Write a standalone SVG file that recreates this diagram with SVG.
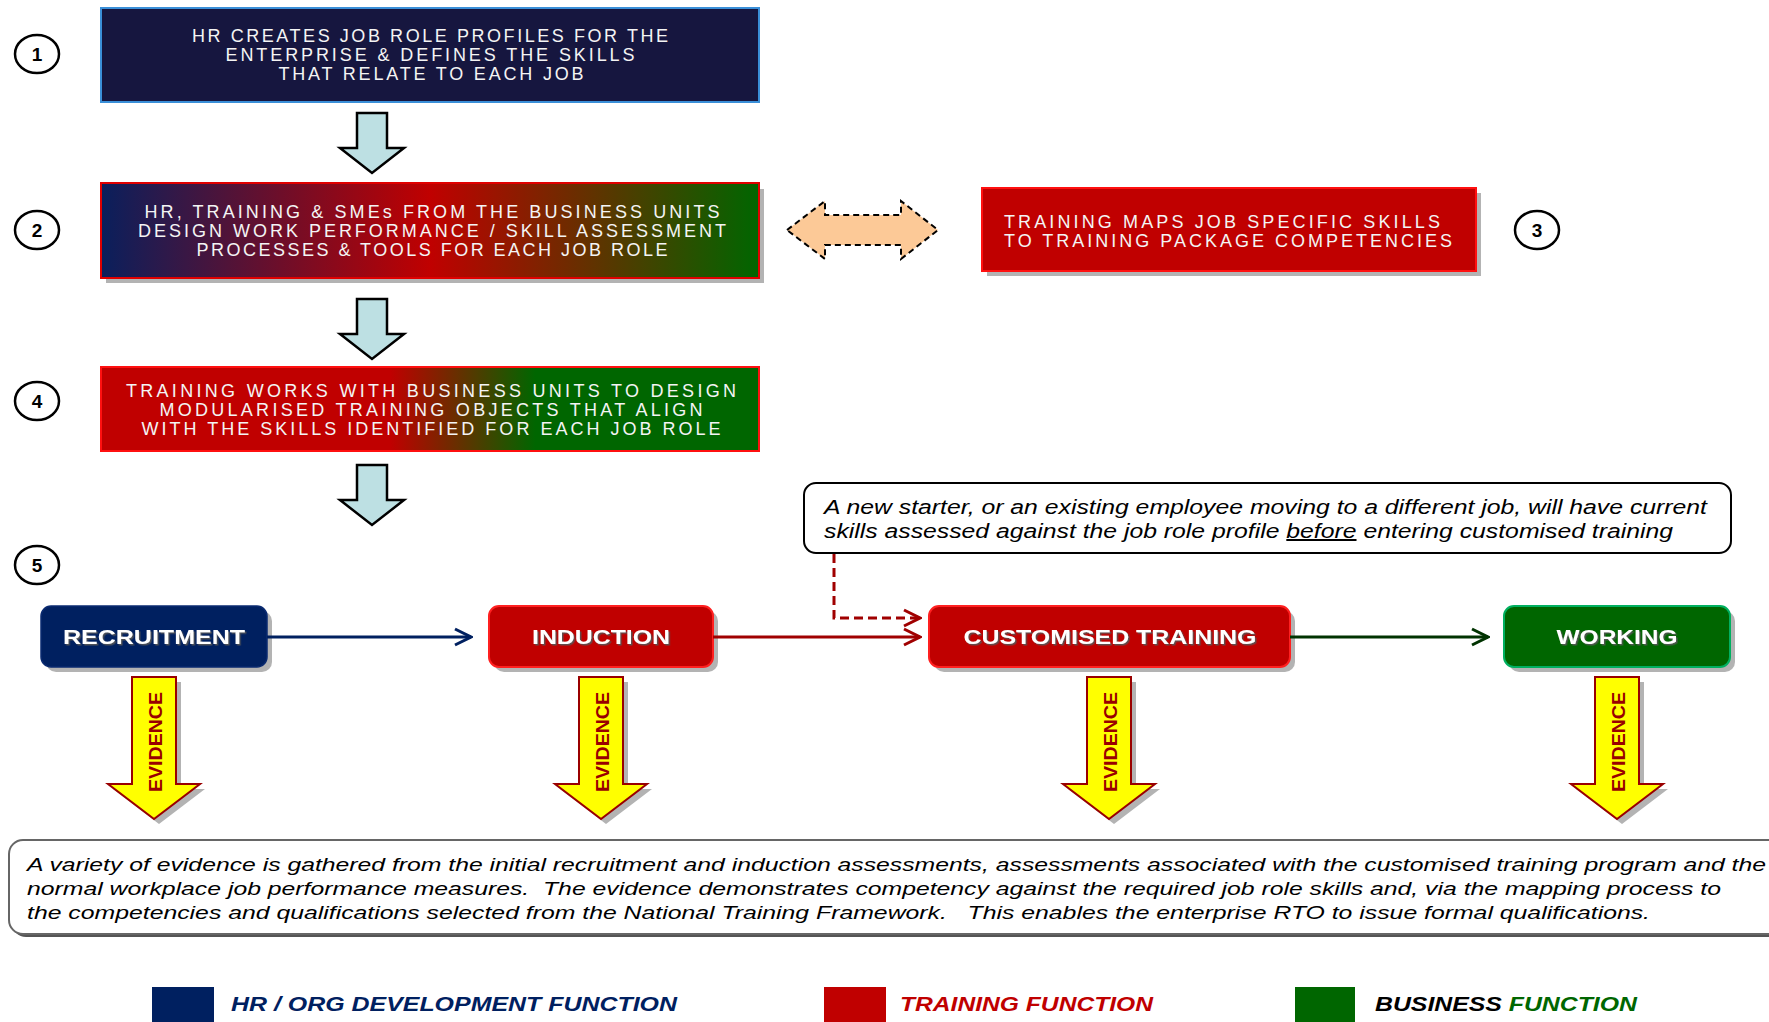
<svg xmlns="http://www.w3.org/2000/svg" width="1769" height="1022" viewBox="0 0 1769 1022">
<defs>
<style>
.boxt{font-family:"Liberation Sans",Arial,sans-serif;font-size:18px;fill:#f4f4f4;}
.num{font-family:"Liberation Sans",Arial,sans-serif;font-size:19px;font-weight:bold;fill:#000;text-anchor:middle;}
.numc{fill:#fff;stroke:#000;stroke-width:2.5;}
.down{fill:#bde0e3;stroke:#000;stroke-width:2.5;stroke-linejoin:miter;}
.shadow{fill:#9a9a9a;opacity:0.75;}
.node{font-family:"Liberation Sans",Arial,sans-serif;font-size:21px;font-weight:bold;fill:#fff;text-anchor:middle;filter:url(#ts);}
.evi{fill:#ffff00;stroke:#990000;stroke-width:2;}
.evt{font-family:"Liberation Sans",Arial,sans-serif;font-size:19px;font-weight:bold;fill:#990000;text-anchor:middle;}
.note{font-family:"Liberation Sans",Arial,sans-serif;font-style:italic;fill:#000;}
.leg{font-family:"Liberation Sans",Arial,sans-serif;font-size:20px;font-weight:bold;font-style:italic;}
.conn{fill:none;stroke-width:3;}
</style>
<linearGradient id="g2" x1="0" y1="0" x2="1" y2="0">
<stop offset="0" stop-color="#0a1f5c"/>
<stop offset="0.5" stop-color="#c00000"/>
<stop offset="1" stop-color="#006600"/>
</linearGradient>
<linearGradient id="g4" x1="0" y1="0" x2="1" y2="0">
<stop offset="0" stop-color="#c00000"/>
<stop offset="0.44" stop-color="#c00000"/>
<stop offset="0.66" stop-color="#006600"/>
<stop offset="1" stop-color="#006600"/>
</linearGradient>
<filter id="ts" x="-10%" y="-30%" width="120%" height="160%">
<feDropShadow dx="1.5" dy="1.5" stdDeviation="0.6" flood-color="#555" flood-opacity="0.9"/>
</filter>
<marker id="mNavy" viewBox="0 0 20 20" refX="18" refY="10" markerWidth="20" markerHeight="20" markerUnits="userSpaceOnUse" orient="auto">
<path d="M2,2 L18,10 L2,18" fill="none" stroke="#002060" stroke-width="3"/>
</marker>
<marker id="mRed" viewBox="0 0 20 20" refX="18" refY="10" markerWidth="20" markerHeight="20" markerUnits="userSpaceOnUse" orient="auto">
<path d="M2,2 L18,10 L2,18" fill="none" stroke="#a00000" stroke-width="3"/>
</marker>
<marker id="mGreen" viewBox="0 0 20 20" refX="18" refY="10" markerWidth="20" markerHeight="20" markerUnits="userSpaceOnUse" orient="auto">
<path d="M2,2 L18,10 L2,18" fill="none" stroke="#003300" stroke-width="3"/>
</marker>
<path id="evArrow" d="M-22,0 H22 V107 H46 L0,142 L-46,107 H-22 Z"/>
<path id="dnArrow" d="M-15,0 H15 V35 H32 L0,60 L-32,35 H-15 Z"/>
</defs>
<rect width="1769" height="1022" fill="#fff"/>

<!-- step numbers -->
<g id="num1"><ellipse class="numc" cx="37" cy="54" rx="22" ry="19"/><text class="num" x="37" y="61">1</text></g>
<g id="num2"><ellipse class="numc" cx="37" cy="230" rx="22" ry="19"/><text class="num" x="37" y="237">2</text></g>
<g id="num3"><ellipse class="numc" cx="1537" cy="230" rx="22" ry="19"/><text class="num" x="1537" y="237">3</text></g>
<g id="num4"><ellipse class="numc" cx="37" cy="401" rx="22" ry="19"/><text class="num" x="37" y="408">4</text></g>
<g id="num5"><ellipse class="numc" cx="37" cy="565" rx="22" ry="19"/><text class="num" x="37" y="572">5</text></g>

<!-- step 1 -->
<g id="step1">
<rect x="101" y="8" width="658" height="94" fill="#16163f" stroke="#3a8fd8" stroke-width="2"/>
<text class="boxt" x="430" y="42" text-anchor="middle" textLength="476" lengthAdjust="spacing">HR CREATES JOB ROLE PROFILES FOR THE</text>
<text class="boxt" x="430" y="61" text-anchor="middle" textLength="409" lengthAdjust="spacing">ENTERPRISE &amp; DEFINES THE SKILLS</text>
<text class="boxt" x="431" y="80" text-anchor="middle" textLength="305" lengthAdjust="spacing">THAT RELATE TO EACH JOB</text>
</g>

<!-- step 2 -->
<g id="step2">
<rect class="shadow" x="106" y="189" width="658" height="94"/>
<rect x="101" y="183" width="658" height="95" fill="url(#g2)" stroke="#e00000" stroke-width="2"/>
<text class="boxt" x="432" y="218" text-anchor="middle" textLength="575" lengthAdjust="spacing">HR, TRAINING &amp; SMEs FROM THE BUSINESS UNITS</text>
<text class="boxt" x="432" y="237" text-anchor="middle" textLength="588" lengthAdjust="spacing">DESIGN WORK PERFORMANCE / SKILL ASSESSMENT</text>
<text class="boxt" x="432" y="256" text-anchor="middle" textLength="471" lengthAdjust="spacing">PROCESSES &amp; TOOLS FOR EACH JOB ROLE</text>
</g>

<!-- step 3 -->
<g id="step3">
<rect class="shadow" x="987" y="193" width="494" height="83"/>
<rect x="982" y="188" width="494" height="83" fill="#c00000" stroke="#ff1010" stroke-width="2"/>
<text class="boxt" x="1004" y="228" textLength="436" lengthAdjust="spacing">TRAINING MAPS JOB SPECIFIC SKILLS</text>
<text class="boxt" x="1004" y="247" textLength="448" lengthAdjust="spacing">TO TRAINING PACKAGE COMPETENCIES</text>
</g>

<!-- step 4 -->
<g id="step4">
<rect x="101" y="367" width="658" height="84" fill="url(#g4)" stroke="#ff1010" stroke-width="2"/>
<text class="boxt" x="431" y="397" text-anchor="middle" textLength="610" lengthAdjust="spacing">TRAINING WORKS WITH BUSINESS UNITS TO DESIGN</text>
<text class="boxt" x="431" y="416" text-anchor="middle" textLength="543" lengthAdjust="spacing">MODULARISED TRAINING OBJECTS THAT ALIGN</text>
<text class="boxt" x="431" y="435" text-anchor="middle" textLength="579" lengthAdjust="spacing">WITH THE SKILLS IDENTIFIED FOR EACH JOB ROLE</text>
</g>

<!-- callout -->
<g id="callout">
<rect x="804" y="483" width="927" height="70" rx="12" fill="#fff" stroke="#000" stroke-width="2"/>
<text class="note" x="824" y="514" font-size="20" textLength="883" lengthAdjust="spacingAndGlyphs">A new starter, or an existing employee moving to a different job, will have current</text>
<text class="note" x="824" y="538" font-size="20" textLength="849" lengthAdjust="spacingAndGlyphs">skills assessed against the job role profile <tspan text-decoration="underline">before</tspan> entering customised training</text>
</g>

<!-- process nodes -->
<g id="recruitment">
<rect class="shadow" x="46" y="611" width="226" height="61" rx="10"/>
<rect x="41" y="606" width="226" height="61" rx="10" fill="#002060" stroke="#0a2a70" stroke-width="1.5"/>
<text class="node" x="154" y="644" textLength="182" lengthAdjust="spacingAndGlyphs">RECRUITMENT</text>
</g>
<g id="induction">
<rect class="shadow" x="494" y="611" width="224" height="61" rx="10"/>
<rect x="489" y="606" width="224" height="61" rx="10" fill="#c00000" stroke="#ff2020" stroke-width="2"/>
<text class="node" x="601" y="644" textLength="138" lengthAdjust="spacingAndGlyphs">INDUCTION</text>
</g>
<g id="customised">
<rect class="shadow" x="934" y="611" width="361" height="61" rx="10"/>
<rect x="929" y="606" width="361" height="61" rx="10" fill="#c00000" stroke="#ff2020" stroke-width="2"/>
<text class="node" x="1110" y="644" textLength="293" lengthAdjust="spacingAndGlyphs">CUSTOMISED TRAINING</text>
</g>
<g id="working">
<rect class="shadow" x="1509" y="611" width="226" height="61" rx="10"/>
<rect x="1504" y="606" width="226" height="61" rx="10" fill="#006600" stroke="#00b060" stroke-width="2"/>
<text class="node" x="1617" y="644" textLength="121" lengthAdjust="spacingAndGlyphs">WORKING</text>
</g>

<!-- connectors -->
<g id="connectors">
<use href="#dnArrow" class="down" transform="translate(372,113)"/>
<use href="#dnArrow" class="down" transform="translate(372,299)"/>
<use href="#dnArrow" class="down" transform="translate(372,465)"/>
<path d="M787,230 L825,201 V215 H901 V201 L938,230 L901,259 V245 H825 V259 Z" fill="#fcc997" stroke="#000" stroke-width="2" stroke-dasharray="6,4"/>
<path class="conn" d="M267,637 H471" stroke="#002060" marker-end="url(#mNavy)"/>
<path class="conn" d="M713,637 H920" stroke="#a00000" marker-end="url(#mRed)"/>
<path class="conn" d="M1290,637 H1488" stroke="#003300" marker-end="url(#mGreen)"/>
<path class="conn" d="M834,554 V618 H920" stroke="#a00000" stroke-dasharray="9,5" marker-end="url(#mRed)"/>
</g>

<!-- evidence arrows -->
<g id="evidence1">
<use href="#evArrow" class="shadow" transform="translate(159,682)"/>
<use href="#evArrow" class="evi" transform="translate(154,677)"/>
<text class="evt" transform="translate(155,742) rotate(-90)" y="7" textLength="100" lengthAdjust="spacingAndGlyphs">EVIDENCE</text>
</g>
<g id="evidence2">
<use href="#evArrow" class="shadow" transform="translate(606,682)"/>
<use href="#evArrow" class="evi" transform="translate(601,677)"/>
<text class="evt" transform="translate(602,742) rotate(-90)" y="7" textLength="100" lengthAdjust="spacingAndGlyphs">EVIDENCE</text>
</g>
<g id="evidence3">
<use href="#evArrow" class="shadow" transform="translate(1114,682)"/>
<use href="#evArrow" class="evi" transform="translate(1109,677)"/>
<text class="evt" transform="translate(1110,742) rotate(-90)" y="7" textLength="100" lengthAdjust="spacingAndGlyphs">EVIDENCE</text>
</g>
<g id="evidence4">
<use href="#evArrow" class="shadow" transform="translate(1622,682)"/>
<use href="#evArrow" class="evi" transform="translate(1617,677)"/>
<text class="evt" transform="translate(1618,742) rotate(-90)" y="7" textLength="100" lengthAdjust="spacingAndGlyphs">EVIDENCE</text>
</g>

<!-- summary -->
<g id="summary">
<rect x="12" y="843" width="1775" height="94" rx="14" fill="#555"/>
<rect x="9" y="840" width="1775" height="94" rx="14" fill="#fff" stroke="#666" stroke-width="2"/>
<text class="note" x="27" y="871" font-size="19" textLength="1739" lengthAdjust="spacingAndGlyphs">A variety of evidence is gathered from the initial recruitment and induction assessments, assessments associated with the customised training program and the</text>
<text class="note" x="27" y="895" font-size="19" textLength="1694" lengthAdjust="spacingAndGlyphs" xml:space="preserve">normal workplace job performance measures.  The evidence demonstrates competency against the required job role skills and, via the mapping process to</text>
<text class="note" x="27" y="919" font-size="19" textLength="1623" lengthAdjust="spacingAndGlyphs" xml:space="preserve">the competencies and qualifications selected from the National Training Framework.   This enables the enterprise RTO to issue formal qualifications.</text>
</g>

<!-- legend -->
<g id="legend-hr">
<rect x="152" y="987" width="62" height="40" fill="#002060"/>
<text class="leg" x="231" y="1011" fill="#002060" textLength="446" lengthAdjust="spacingAndGlyphs">HR / ORG DEVELOPMENT FUNCTION</text>
</g>
<g id="legend-training">
<rect x="824" y="987" width="62" height="40" fill="#c00000"/>
<text class="leg" x="900" y="1011" fill="#c00000" textLength="253" lengthAdjust="spacingAndGlyphs">TRAINING FUNCTION</text>
</g>
<g id="legend-business">
<rect x="1295" y="987" width="60" height="40" fill="#006600"/>
<text class="leg" x="1375" y="1011" fill="#000" textLength="262" lengthAdjust="spacingAndGlyphs">BUSINESS <tspan fill="#006600">FUNCTION</tspan></text>
</g>
</svg>
